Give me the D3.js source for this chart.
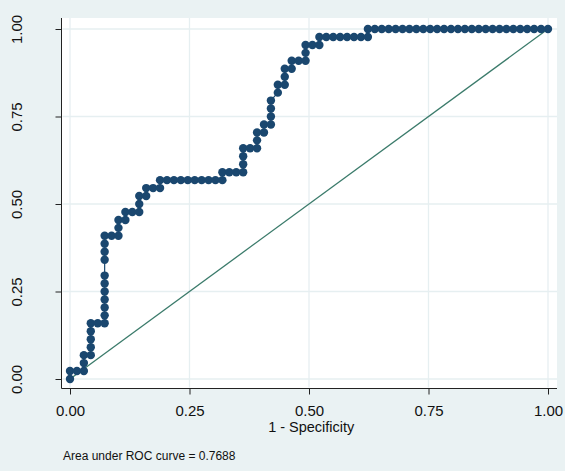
<!DOCTYPE html>
<html>
<head>
<meta charset="utf-8">
<script src="https://cdn.jsdelivr.net/npm/d3@7"></script>
<style>
  body { margin: 0; background: #eaf2f3; }
  svg text { font-family: "Liberation Sans", Arial, sans-serif; }
</style>
</head>
<body>
<div id="chart"></div>
<script>
// ROC points: 1 - specificity and sensitivity
const fpr = [
  0, 0, .0145, .0290, .0290, .0290, .0435, .0435, .0435, .0435, .0435,
  .0580, .0725, .0725, .0725, .0725, .0725, .0725, .0725, .0725, .0725, .0725, .0725,
  .0870, .1014, .1014, .1014, .1159, .1159, .1304, .1449, .1449, .1449,
  .1594, .1594, .1739, .1884, .1884,
  .2029, .2174, .2319, .2464, .2609, .2754, .2899, .3043, .3188,
  .3188, .3333, .3478, .3623, .3623, .3623, .3623, .3768, .3913, .3913, .3913,
  .4058, .4058, .4203, .4203, .4203, .4203,
  .4348, .4348, .4493, .4493, .4493, .4638, .4638, .4783, .4928, .4928, .4928,
  .5072, .5217, .5217,
  .5362, .5507, .5652, .5797, .5942, .6087, .6232,
  .6232, .6377, .6522, .6667, .6812, .6957, .7101, .7246, .7391, .7536, .7681,
  .7826, .7971, .8116, .8261, .8406, .8551, .8696, .8841, .8986, .9130, .9275,
  .9420, .9565, .9710, .9855, 1
];
const sensitivity = [
  0, .0227, .0227, .0227, .0455, .0682, .0682, .0909, .1136, .1364, .1591,
  .1591, .1591, .1818, .2045, .2273, .2500, .2727, .2955, .3409, .3636, .3864, .4091,
  .4091, .4091, .4318, .4545, .4545, .4773, .4773, .4773, .5000, .5227,
  .5227, .5455, .5455, .5455, .5682,
  .5682, .5682, .5682, .5682, .5682, .5682, .5682, .5682, .5682,
  .5909, .5909, .5909, .5909, .6136, .6364, .6591, .6591, .6591, .6818, .7045,
  .7045, .7273, .7273, .7500, .7727, .7955,
  .8182, .8409, .8409, .8636, .8864, .8864, .9091, .9091, .9091, .9318, .9545,
  .9545, .9545, .9773,
  .9773, .9773, .9773, .9773, .9773, .9773, .9773,
  1, 1, 1, 1, 1, 1, 1, 1, 1, 1, 1,
  1, 1, 1, 1, 1, 1, 1, 1, 1, 1, 1,
  1, 1, 1, 1, 1
];
const tickValues = [0, 0.25, 0.5, 0.75, 1];
const tickLabels = ["0.00", "0.25", "0.50", "0.75", "1.00"];
const xTitle = "1 - Specificity";
const note = "Area under ROC curve = 0.7688";

const points = fpr.map((d, i) => ({ x: d, y: sensitivity[i] }));

const W = 565, H = 471;
const plot = { left: 61.5, right: 557, top: 18, bottom: 388.5 };

const svg = d3.select("#chart").append("svg")
  .attr("width", W).attr("height", H);

svg.append("rect").attr("width", W).attr("height", H).attr("fill", "#eaf2f3");
svg.append("rect")
  .attr("x", plot.left).attr("y", plot.top)
  .attr("width", plot.right - plot.left).attr("height", plot.bottom - plot.top)
  .attr("fill", "#ffffff");

const x = d3.scaleLinear().domain([0, 1]).range([70, 548]);
const y = d3.scaleLinear().domain([0, 1]).range([379, 29]);

// grid
svg.append("g").selectAll("line").data(tickValues).enter().append("line")
  .attr("x1", plot.left + 1).attr("x2", plot.right)
  .attr("y1", d => y(d)).attr("y2", d => y(d))
  .attr("stroke", "#e6eff1").attr("stroke-width", 1.3);
svg.append("g").selectAll("line").data(tickValues).enter().append("line")
  .attr("y1", plot.top).attr("y2", plot.bottom - 1)
  .attr("x1", d => x(d)).attr("x2", d => x(d))
  .attr("stroke", "#e6eff1").attr("stroke-width", 1.3);

// axes
const fmt = d => tickLabels[tickValues.indexOf(d)];
const yAxis = svg.append("g")
  .attr("transform", `translate(${plot.left},0)`)
  .call(d3.axisLeft(y).tickValues(tickValues).tickFormat(fmt).tickSize(6).tickSizeOuter(0));
yAxis.select(".domain").remove();
yAxis.selectAll(".tick text")
  .attr("transform", "rotate(-90)")
  .attr("x", 0).attr("y", -39.5).attr("dy", 0)
  .attr("text-anchor", "middle")
  .style("font-size", "15px").attr("fill", "#111");

const xAxis = svg.append("g")
  .attr("transform", `translate(0,${plot.bottom})`)
  .call(d3.axisBottom(x).tickValues(tickValues).tickFormat(fmt).tickSize(6).tickSizeOuter(0));
xAxis.select(".domain").remove();
xAxis.selectAll(".tick text")
  .attr("y", 27).attr("dy", 0)
  .style("font-size", "15px").attr("fill", "#111");

svg.selectAll(".tick line").attr("stroke", "#222");

svg.append("line")
  .attr("x1", plot.left).attr("x2", plot.left)
  .attr("y1", plot.top).attr("y2", plot.bottom)
  .attr("stroke", "#222").attr("stroke-width", 1);
svg.append("line")
  .attr("x1", plot.left).attr("x2", plot.right)
  .attr("y1", plot.bottom).attr("y2", plot.bottom)
  .attr("stroke", "#222").attr("stroke-width", 1);

// reference line
svg.append("line")
  .attr("x1", x(0)).attr("y1", y(0)).attr("x2", x(1)).attr("y2", y(1))
  .attr("stroke", "#3b7b6b").attr("stroke-width", 1.3);

// ROC curve
svg.append("path").datum(points)
  .attr("d", d3.line().x(d => x(d.x)).y(d => y(d.y)))
  .attr("fill", "none").attr("stroke", "#1a476f").attr("stroke-width", 1.2);

svg.append("g").selectAll("circle").data(points).enter().append("circle")
  .attr("cx", d => x(d.x)).attr("cy", d => y(d.y))
  .attr("r", 4.2).attr("fill", "#1a476f");

svg.append("text")
  .attr("x", (plot.left + plot.right) / 2 + 2).attr("y", 432)
  .attr("text-anchor", "middle")
  .style("font-size", "14.5px").attr("fill", "#111")
  .text(xTitle);

svg.append("text")
  .attr("x", 63).attr("y", 460)
  .style("font-size", "12px").attr("fill", "#111")
  .text(note);
</script>
</body>
</html>
